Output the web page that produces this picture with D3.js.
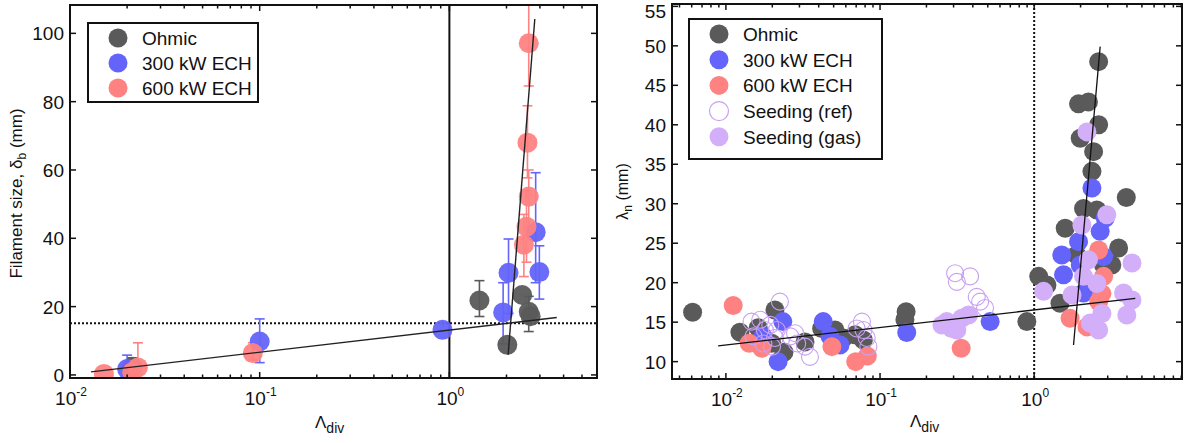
<!DOCTYPE html>
<html>
<head>
<meta charset="utf-8">
<script src="https://cdn.jsdelivr.net/npm/d3@7"></script>
<style>
  body { margin: 0; background: #fff; }
  text { font-family: "Liberation Sans", Arial, sans-serif; fill: #111; }
</style>
</head>
<body>
<div id="grafico"></div>
<script>
// ---- painel esquerdo: tamanho do filamento ----
const ohmicoL_x  = [0.0213, 1.44, 2.02, 2.42, 2.62, 2.68];
const ohmicoL_y  = [2.4, 21.8, 8.8, 23.4, 18.5, 17.2];
const ohmicoL_lo = [0.2, 17.1, null, null, 12.7, null];
const ohmicoL_hi = [5.0, 27.6, null, null, 23.0, null];

const ech300L_x  = [0.020, 0.10, 0.92, 1.92, 2.05, 2.85, 2.98];
const ech300L_y  = [1.7, 9.8, 13.2, 18.3, 29.9, 41.8, 30.1];
const ech300L_lo = [0.0, 3.6, null, 9.1, 18.0, 27.0, 22.2];
const ech300L_hi = [5.8, 16.4, null, 27.0, 39.8, 59.2, 37.8];

const ech600L_x  = [0.0151, 0.0213, 0.0228, 0.092, 2.47, 2.55, 2.62, 2.58, 2.62];
const ech600L_y  = [0.3, 0.8, 2.2, 6.4, 38.1, 43.4, 52.2, 68.0, 97.1];
const ech600L_lo = [null, 0.0, 0.0, 4.4, 28.8, 33.0, 40.0, 57.7, 84.6];
const ech600L_hi = [null, 3.0, 9.4, 9.4, 47.0, 54.0, 60.0, 78.8, 115];

// retas de ajuste e linhas de referência (painel esquerdo)
const ajusteBaixoL = [[0.0129, 0.9], [3.68, 16.8]];
const ajusteAltoL  = [[2.04, 5.9], [2.82, 104.2]];
const limiarL = 15.1;

// ---- painel direito: lambda_n ----
const ohmicoR_x = [0.00608, 0.01233, 0.0208, 0.0162, 0.0198, 0.0238, 0.0326, 0.0418, 0.051, 0.0578, 0.0689, 0.078,
  0.1476, 0.145, 0.896, 2.62, 1.94, 2.25, 2.62, 1.99, 2.43, 2.37, 3.96, 2.09, 2.55, 1.59, 3.53, 3.19, 2.82, 1.07, 1.21, 1.47, 1.89];
const ohmicoR_y = [16.26, 13.72, 16.55, 14.3, 12.33, 11.2, 12.5, 14.2, 14.0, 13.0, 13.4, 12.75,
  16.33, 15.3, 15.07, 48.0, 42.65, 42.9, 40.0, 38.3, 36.6, 34.1, 30.8, 29.4, 29.2, 26.9, 24.4, 22.25, 22.25, 20.8, 19.7, 17.4, 23.5];

const ech300R_x = [0.0218, 0.0234, 0.0174, 0.0428, 0.0474, 0.055, 0.149, 0.518, 2.37, 2.89, 2.68, 1.94, 1.51, 1.55, 1.99, 2.09, 2.82];
const ech300R_y = [10.0, 15.07, 13.2, 15.07, 13.2, 12.1, 13.68, 15.07, 32.0, 28.2, 26.5, 25.2, 23.5, 21.0, 22.25, 18.7, 23.3];

const ech600R_x = [0.01115, 0.01416, 0.0171, 0.0487, 0.0695, 0.0827, 0.336, 2.62, 2.82, 2.62, 1.71, 2.2, 2.75];
const ech600R_y = [17.1, 12.33, 11.7, 11.9, 10.0, 10.7, 11.7, 24.15, 20.8, 17.6, 15.5, 14.4, 18.6];

const semeRefR_x = [0.01467, 0.0167, 0.0179, 0.0194, 0.0214, 0.0224, 0.0208, 0.0175, 0.0262, 0.029, 0.0281, 0.0326, 0.0351,
  0.0151, 0.0199, 0.0763, 0.078, 0.082, 0.084, 0.0705, 0.307, 0.384, 0.315, 0.424, 0.446, 0.48];
const semeRefR_y = [15.07, 15.3, 14.0, 14.65, 14.0, 17.6, 13.0, 12.3, 13.2, 12.3, 13.6, 11.9, 10.6,
  13.2, 11.9, 15.07, 14.0, 13.0, 11.9, 14.2, 21.2, 20.8, 20.1, 18.2, 17.6, 16.8];

const semeGasR_x = [0.271, 0.292, 0.339, 0.375, 0.252, 0.315, 2.2, 2.96, 2.04, 2.25, 4.31, 1.15, 1.76, 2.09, 2.55, 3.8, 4.31, 2.75, 3.99, 2.31, 2.62];
const semeGasR_y = [15.07, 14.2, 15.5, 15.9, 14.65, 14.0, 39.1, 28.6, 27.3, 22.9, 22.5, 18.9, 18.45, 20.8, 19.9, 18.7, 17.8, 16.1, 15.9, 14.9, 14.0];

const ajusteBaixoR = [[0.0089, 12.0], [4.53, 18.0]];
const ajusteAltoR  = [[1.80, 12.1], [2.68, 49.9]];

const ticksL = [0, 20, 40, 60, 80, 100];
const ticksR = [10, 15, 20, 25, 30, 35, 40, 45, 50, 55];
const decadasL = [-2, -1, 0];
const decadasR = [-2, -1, 0];

const cores = {
    ohmico: "#5a5a5a",
    ech300: "#6464fa",
    ech600: "#ff8282",
    semente: "#d2aff8"
};

const svg = d3.select("#grafico")
    .append("svg")
    .attr("width", 1187)
    .attr("height", 443);

function junta(xs, ys, lo, hi) {
    return xs.map((x, i) => ({ x, y: ys[i], lo: lo ? lo[i] : null, hi: hi ? hi[i] : null }));
}

function desenharEixos(g, x, y, ticksY, decadas, w, h) {
    const [x0, x1] = x.domain();
    // ticks menores do eixo log
    const menores = [];
    for (let d = Math.floor(Math.log10(x0)); d <= Math.ceil(Math.log10(x1)); d++) {
        for (let m = 1; m < 10; m++) {
            const v = m * Math.pow(10, d);
            if (v >= x0 && v <= x1) menores.push({ v, maior: m === 1 });
        }
    }
    menores.forEach(t => {
        const len = t.maior ? 6 : 3.5;
        g.append("line").attr("x1", x(t.v)).attr("x2", x(t.v)).attr("y1", h).attr("y2", h - len)
            .attr("stroke", "#111").attr("stroke-width", 1.5);
        g.append("line").attr("x1", x(t.v)).attr("x2", x(t.v)).attr("y1", 0).attr("y2", len)
            .attr("stroke", "#111").attr("stroke-width", 1.5);
    });
    ticksY.forEach(v => {
        g.append("line").attr("x1", 0).attr("x2", 6).attr("y1", y(v)).attr("y2", y(v))
            .attr("stroke", "#111").attr("stroke-width", 1.5);
        g.append("line").attr("x1", w).attr("x2", w - 6).attr("y1", y(v)).attr("y2", y(v))
            .attr("stroke", "#111").attr("stroke-width", 1.5);
        // o rótulo do topo não pode sair da página
        g.append("text").attr("x", -6).attr("y", Math.max(y(v) + 7, 14))
            .attr("text-anchor", "end").style("font-size", "19px").text(v);
    });
    decadas.forEach(d => {
        const t = g.append("text").attr("x", x(Math.pow(10, d)) + 1).attr("y", h + 27)
            .attr("text-anchor", "middle").style("font-size", "19px");
        t.append("tspan").text("10");
        t.append("tspan").attr("dy", -9).style("font-size", "12px").text(d);
    });
    g.append("rect").attr("width", w).attr("height", h)
        .attr("fill", "none").attr("stroke", "#111").attr("stroke-width", 2);
}

function desenharLegenda(g, itens, bx, by, bw, bh, passo) {
    g.append("rect").attr("x", bx).attr("y", by).attr("width", bw).attr("height", bh)
        .attr("fill", "#fff").attr("stroke", "#111").attr("stroke-width", 2);
    itens.forEach((it, i) => {
        const cy = by + 15 + i * passo;
        g.append("circle").attr("cx", bx + 30).attr("cy", cy).attr("r", 9.5)
            .attr("fill", it.vazio ? "none" : it.cor)
            .attr("stroke", it.vazio ? it.cor : "none").attr("stroke-width", 1.2);
        g.append("text").attr("x", bx + 54).attr("y", cy + 7)
            .style("font-size", "19px").text(it.nome);
    });
}

// ================= painel esquerdo =================
const wL = 527, hL = 373;
const gL = svg.append("g").attr("transform", "translate(70,5)");
const xL = d3.scaleLog().domain([0.01, 6]).range([0, wL]);
const yL = d3.scaleLinear().domain([-0.9, 108.3]).range([hL, 0]);

gL.append("clipPath").attr("id", "clipL").append("rect").attr("width", wL).attr("height", hL);
const areaL = gL.append("g").attr("clip-path", "url(#clipL)");

// linha pontilhada horizontal e vertical em 1
areaL.append("line").attr("x1", 0).attr("x2", wL).attr("y1", yL(limiarL)).attr("y2", yL(limiarL))
    .attr("stroke", "#111").attr("stroke-width", 2).attr("stroke-dasharray", "2,2");
areaL.append("line").attr("x1", xL(1)).attr("x2", xL(1)).attr("y1", 0).attr("y2", hL)
    .attr("stroke", "#111").attr("stroke-width", 2);

const seriesL = [
    { dados: junta(ohmicoL_x, ohmicoL_y, ohmicoL_lo, ohmicoL_hi), cor: cores.ohmico },
    { dados: junta(ech300L_x, ech300L_y, ech300L_lo, ech300L_hi), cor: cores.ech300 },
    { dados: junta(ech600L_x, ech600L_y, ech600L_lo, ech600L_hi), cor: cores.ech600 }
];

// barras de erro
seriesL.forEach(s => {
    const comErro = s.dados.filter(d => d.lo !== null);
    const eb = areaL.selectAll(null).data(comErro).enter().append("g")
        .attr("stroke", s.cor).attr("stroke-width", 1.6);
    eb.append("line").attr("x1", d => xL(d.x)).attr("x2", d => xL(d.x))
        .attr("y1", d => yL(d.lo)).attr("y2", d => yL(d.hi));
    eb.append("line").attr("x1", d => xL(d.x) - 5).attr("x2", d => xL(d.x) + 5)
        .attr("y1", d => yL(d.lo)).attr("y2", d => yL(d.lo));
    eb.append("line").attr("x1", d => xL(d.x) - 5).attr("x2", d => xL(d.x) + 5)
        .attr("y1", d => yL(d.hi)).attr("y2", d => yL(d.hi));
});

seriesL.forEach(s => {
    areaL.selectAll(null).data(s.dados).enter().append("circle")
        .attr("cx", d => xL(d.x)).attr("cy", d => yL(d.y)).attr("r", 10)
        .attr("fill", s.cor).attr("fill-opacity", 0.95);
});

const linha = (x, y) => d3.line().x(d => x(d[0])).y(d => y(d[1]));
[ajusteBaixoL, ajusteAltoL].forEach(a => {
    areaL.append("path").attr("d", linha(xL, yL)(a))
        .attr("fill", "none").attr("stroke", "#222").attr("stroke-width", 1.4);
});

desenharEixos(gL, xL, yL, ticksL, decadasL, wL, hL);
desenharLegenda(gL, [
    { nome: "Ohmic", cor: cores.ohmico },
    { nome: "300 kW ECH", cor: cores.ech300 },
    { nome: "600 kW ECH", cor: cores.ech600 }
], 18, 18, 170, 79, 25);

const rotL = gL.append("text").attr("transform", `translate(-48,${hL / 2 + 2}) rotate(-90)`)
    .attr("text-anchor", "middle").style("font-size", "17px");
rotL.append("tspan").text("Filament size, δ");
rotL.append("tspan").attr("dy", 4).style("font-size", "12px").text("b");
rotL.append("tspan").attr("dy", -4).text(" (mm)");

const xlabL = gL.append("text").attr("x", 245).attr("y", 423).style("font-size", "17px");
xlabL.append("tspan").text("Λ");
xlabL.append("tspan").attr("dy", 5).style("font-size", "14px").text("div");

// ================= painel direito =================
const wR = 510, hR = 375;
const gR = svg.append("g").attr("transform", "translate(672,4)");
const xR = d3.scaleLog().domain([0.00447, 9.1]).range([0, wR]);
const yR = d3.scaleLinear().domain([7.8, 55.3]).range([hR, 0]);

gR.append("clipPath").attr("id", "clipR").append("rect").attr("width", wR).attr("height", hR);
const areaR = gR.append("g").attr("clip-path", "url(#clipR)");

areaR.append("line").attr("x1", xR(1)).attr("x2", xR(1)).attr("y1", 0).attr("y2", hR)
    .attr("stroke", "#111").attr("stroke-width", 2).attr("stroke-dasharray", "2,2");

const seriesR = [
    { dados: junta(ohmicoR_x, ohmicoR_y), cor: cores.ohmico },
    { dados: junta(ech300R_x, ech300R_y), cor: cores.ech300 },
    { dados: junta(ech600R_x, ech600R_y), cor: cores.ech600 },
    { dados: junta(semeRefR_x, semeRefR_y), cor: cores.semente, vazio: true },
    { dados: junta(semeGasR_x, semeGasR_y), cor: cores.semente }
];

seriesR.forEach(s => {
    areaR.selectAll(null).data(s.dados).enter().append("circle")
        .attr("cx", d => xR(d.x)).attr("cy", d => yR(d.y))
        .attr("r", s.vazio ? 8.5 : 9.5)
        .attr("fill", s.vazio ? "none" : s.cor)
        .attr("stroke", s.vazio ? "#c8a0f2" : "none")
        .attr("stroke-width", 1.1);
});

[ajusteBaixoR, ajusteAltoR].forEach(a => {
    areaR.append("path").attr("d", linha(xR, yR)(a))
        .attr("fill", "none").attr("stroke", "#111").attr("stroke-width", 1.3);
});

desenharEixos(gR, xR, yR, ticksR, decadasR, wR, hR);
desenharLegenda(gR, [
    { nome: "Ohmic", cor: cores.ohmico },
    { nome: "300 kW ECH", cor: cores.ech300 },
    { nome: "600 kW ECH", cor: cores.ech600 },
    { nome: "Seeding (ref)", cor: "#c8a0f2", vazio: true },
    { nome: "Seeding (gas)", cor: cores.semente }
], 17, 15, 193, 140, 25.7);

const rotR = gR.append("text").attr("transform", `translate(-44,${hR / 2}) rotate(-90)`)
    .attr("text-anchor", "middle").style("font-size", "16px");
rotR.append("tspan").text("λ");
rotR.append("tspan").attr("dy", 4).style("font-size", "12px").text("n");
rotR.append("tspan").attr("dy", -4).text(" (mm)");

const xlabR = gR.append("text").attr("x", 238).attr("y", 423).style("font-size", "17px");
xlabR.append("tspan").text("Λ");
xlabR.append("tspan").attr("dy", 5).style("font-size", "14px").text("div");
</script>
</body>
</html>
